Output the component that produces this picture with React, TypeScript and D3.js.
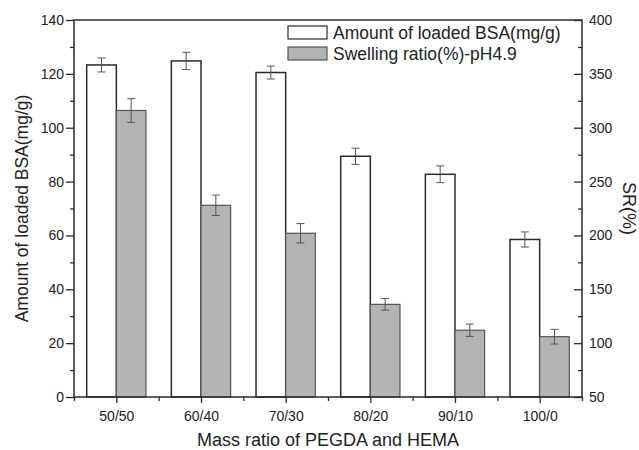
import React, { useEffect, useRef } from 'react';
import * as d3 from 'd3';

const categories = ['50/50', '60/40', '70/30', '80/20', '90/10', '100/0'];
const bsaValues = [123.3, 124.8, 120.5, 89.4, 82.7, 58.5];
const bsaErrors = [2.6, 3.2, 2.4, 3.0, 3.1, 2.8];
const srValues = [316, 228, 202, 136, 112, 106];
const srErrors = [11, 9.5, 9, 5.4, 5.7, 6.8];
const leftTicks = [0, 20, 40, 60, 80, 100, 120, 140];
const rightTicks = [50, 100, 150, 200, 250, 300, 350, 400];

const W = 639;
const H = 450;
const FONT = '"Liberation Sans", Arial, sans-serif';

export default function App() {
  const ref = useRef<SVGSVGElement>(null);

  useEffect(() => {
    const svg = d3.select(ref.current);
    svg.selectAll('*').remove();

    const left = 74, right = 582, top = 20, bottom = 397;
    const x = d3.scaleLinear().domain([0.5, 6.5]).range([left, right]);
    const yL = d3.scaleLinear().domain([0, 140]).range([bottom, top]);
    const yR = d3.scaleLinear().domain([50, 400]).range([bottom, top]);
    const bw = 0.35;
    const ink = '#2a2a2a';

    // bars
    const g = svg.append('g');
    categories.forEach((c, i) => {
      const cx = i + 1;
      g.append('rect')
        .attr('x', x(cx - bw))
        .attr('y', yL(bsaValues[i]))
        .attr('width', x(cx) - x(cx - bw))
        .attr('height', bottom - yL(bsaValues[i]))
        .attr('fill', '#fff')
        .attr('stroke', ink)
        .attr('stroke-width', 1.5);
      g.append('rect')
        .attr('x', x(cx))
        .attr('y', yR(srValues[i]))
        .attr('width', x(cx + bw) - x(cx))
        .attr('height', bottom - yR(srValues[i]))
        .attr('fill', '#b3b3b3')
        .attr('stroke', '#555')
        .attr('stroke-width', 1.2);
    });

    // error bars
    const errs = [
      ...categories.map((c, i) => ({ cx: x(i + 1 - bw / 2), y1: yL(bsaValues[i] + bsaErrors[i]), y2: yL(bsaValues[i] - bsaErrors[i]) })),
      ...categories.map((c, i) => ({ cx: x(i + 1 + bw / 2), y1: yR(srValues[i] + srErrors[i]), y2: yR(srValues[i] - srErrors[i]) })),
    ];
    errs.forEach(e => {
      const eg = svg.append('g').attr('stroke', '#555').attr('stroke-width', 1);
      eg.append('line').attr('x1', e.cx).attr('x2', e.cx).attr('y1', e.y1).attr('y2', e.y2);
      eg.append('line').attr('x1', e.cx - 4).attr('x2', e.cx + 4).attr('y1', e.y1).attr('y2', e.y1);
      eg.append('line').attr('x1', e.cx - 4).attr('x2', e.cx + 4).attr('y1', e.y2).attr('y2', e.y2);
    });

    // frame
    svg.append('rect')
      .attr('x', left).attr('y', top)
      .attr('width', right - left).attr('height', bottom - top)
      .attr('fill', 'none').attr('stroke', ink).attr('stroke-width', 1.5);

    // left axis
    const la = svg.append('g').attr('transform', `translate(${left},0)`);
    la.call(d3.axisLeft(yL).tickValues(leftTicks).tickSize(8).tickPadding(2));
    la.append('g').call(d3.axisLeft(yL).tickValues(d3.range(10, 140, 20)).tickSize(4).tickFormat(() => ''));
    // right axis (inward ticks)
    const ra = svg.append('g').attr('transform', `translate(${right},0)`);
    ra.call(d3.axisRight(yR).tickValues(rightTicks).tickSizeInner(-8).tickSizeOuter(0).tickPadding(7));
    ra.append('g').call(d3.axisRight(yR).tickValues(d3.range(75, 400, 50)).tickSizeInner(-4).tickSizeOuter(0).tickFormat(() => ''));
    // bottom axis
    const ba = svg.append('g').attr('transform', `translate(0,${bottom})`);
    ba.call(d3.axisBottom(x).tickValues(d3.range(1, 7)).tickFormat((d) => categories[(d as number) - 1]).tickSize(6).tickPadding(8));
    ba.append('g').call(d3.axisBottom(x).tickValues(d3.range(0.5, 7, 1)).tickSize(4).tickFormat(() => ''));

    [la, ra, ba].forEach(a => {
      a.selectAll('path').remove();
      a.selectAll('line').attr('stroke', ink).attr('stroke-width', 1.3);
      a.selectAll('text').attr('font-family', FONT).attr('font-size', 14).attr('fill', '#222');
    });

    // axis titles
    svg.append('text')
      .attr('transform', `translate(28,${(top + bottom) / 2}) rotate(-90)`)
      .attr('text-anchor', 'middle').attr('font-family', FONT).attr('font-size', 17.5).attr('fill', '#222')
      .text('Amount of loaded BSA(mg/g)');
    svg.append('text')
      .attr('transform', `translate(623,${(top + bottom) / 2}) rotate(90)`)
      .attr('text-anchor', 'middle').attr('font-family', FONT).attr('font-size', 18).attr('fill', '#222')
      .text('SR(%)');
    svg.append('text')
      .attr('x', (left + right) / 2).attr('y', 446)
      .attr('text-anchor', 'middle').attr('font-family', FONT).attr('font-size', 18).attr('fill', '#222')
      .text('Mass ratio of PEGDA and HEMA');

    // legend
    const legend = [
      { label: 'Amount of loaded BSA(mg/g)', fill: '#fff', stroke: ink },
      { label: 'Swelling ratio(%)-pH4.9', fill: '#b3b3b3', stroke: '#555' },
    ];
    legend.forEach((l, i) => {
      const ly = 26 + i * 21;
      svg.append('rect').attr('x', 288).attr('y', ly).attr('width', 39).attr('height', 13)
        .attr('fill', l.fill).attr('stroke', l.stroke).attr('stroke-width', 1.2);
      svg.append('text').attr('x', 333).attr('y', ly + 12.5)
        .attr('font-family', FONT).attr('font-size', 17.5).attr('fill', '#222').text(l.label);
    });
  }, []);

  return <svg ref={ref} width={W} height={H} style={{ position: 'absolute', left: 0, top: 0 }} />;
}
